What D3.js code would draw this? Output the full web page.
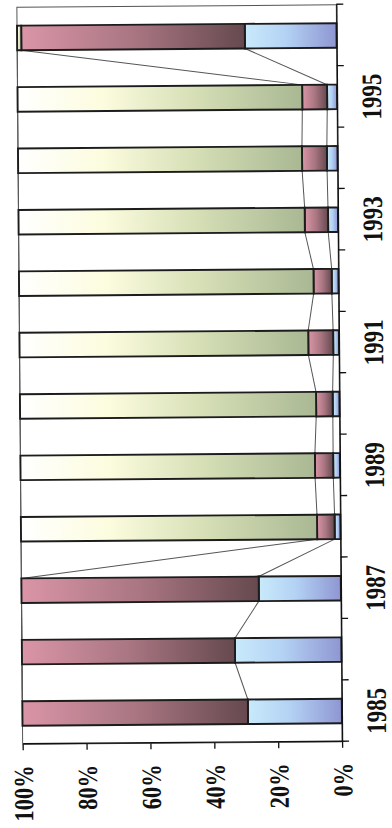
<!DOCTYPE html>
<html>
<head>
<meta charset="utf-8">
<script src="https://cdn.jsdelivr.net/npm/d3@7"></script>
<style>
  html, body { margin: 0; padding: 0; background: #ffffff; }
  svg { display: block; }
</style>
</head>
<body>
<svg id="chart" width="392" height="828"></svg>
<script>
// ---- data (percent shares, stacked bottom -> top) ----
const years = ["1985","1986","1987","1988","1989","1990","1991","1992","1993","1994","1995","1996"];
const blueVals  = [29.4, 33.3, 25.7, 1.8, 2.1, 2.1, 1.8, 2.1, 3.1, 3.3, 3.1, 28.7];
const redVals   = [70.6, 66.7, 74.3, 5.5, 5.7, 5.2, 7.8, 5.7, 7.3, 7.8, 7.8, 70.0];
const greenVals = [0.0, 0.0, 0.0, 92.7, 92.2, 92.7, 90.4, 92.2, 89.6, 88.9, 89.1, 1.3];
const yearLabels = ["1985","1987","1989","1991","1993","1995"];
const valueTicks = [0, 20, 40, 60, 80, 100];

const seriesKeys = ["blue", "red", "green"];
const table = years.map((yr, i) => ({ year: yr, blue: blueVals[i], red: redVals[i], green: greenVals[i] }));

// ---- layout in the un-rotated frame (828 wide x 392 tall) ----
const W = 828, H = 392;
const plotLeft = 85, plotRight = 822;
const yTop = 19.75, yBottom = 339.2;

const svg = d3.select("#chart");
const defs = svg.append("defs");

const grads = {
  blue:  [["0%", "#c8eafb"], ["45%", "#b4d2f4"], ["100%", "#8e96d2"]],
  red:   [["0%", "#da95a7"], ["50%", "#a97682"], ["100%", "#66494f"]],
  green: [["0%", "#ffffff"], ["30%", "#fcfcde"], ["62%", "#d6dfb6"], ["100%", "#a9b893"]]
};
Object.entries(grads).forEach(([k, stops]) => {
  const g = defs.append("linearGradient").attr("id", "g-" + k)
    .attr("x1", 0).attr("y1", 0).attr("x2", 0).attr("y2", 1);
  stops.forEach(([o, c]) => g.append("stop").attr("offset", o).attr("stop-color", c));
});

const outer = svg.append("g").attr("transform", "rotate(-0.45,180,374)");
const root = outer.append("g").attr("transform", `translate(0,${W}) rotate(-90)`);

const x = d3.scaleBand().domain(years).range([plotLeft, plotRight]).paddingInner(0.6).paddingOuter(0.3);
const y = d3.scaleLinear().domain([0, 100]).range([yBottom, yTop]);
const xb = d3.scaleLinear().domain([0, years.length]).range([plotLeft, plotRight]);

// plot border
root.append("rect")
  .attr("x", plotLeft).attr("y", yTop)
  .attr("width", plotRight - plotLeft).attr("height", yBottom - yTop)
  .attr("fill", "none").attr("stroke", "#555").attr("stroke-width", 1);

const stacked = d3.stack().keys(seriesKeys)(table);

// series lines
const lineG = root.append("g");
stacked.forEach(layer => {
  for (let i = 0; i < years.length - 1; i++) {
    lineG.append("line")
      .attr("x1", x(years[i]) + x.bandwidth()).attr("y1", y(layer[i][1]))
      .attr("x2", x(years[i + 1])).attr("y2", y(layer[i + 1][1]))
      .attr("stroke", "#555").attr("stroke-width", 1);
  }
});

// bars
stacked.forEach(layer => {
  root.append("g").selectAll("rect").data(layer.filter(d => d[1] - d[0] > 0)).join("rect")
    .attr("x", d => x(d.data.year))
    .attr("width", x.bandwidth())
    .attr("y", d => y(d[1]))
    .attr("height", d => y(d[0]) - y(d[1]))
    .attr("fill", `url(#g-${layer.key})`)
    .attr("stroke", "#1c1c1c").attr("stroke-width", 1.9);
});

// value axis (left in un-rotated frame)
const yAxis = root.append("g").attr("transform", `translate(${plotLeft},0)`)
  .call(d3.axisLeft(y).tickValues(valueTicks).tickSize(6).tickSizeOuter(0).tickFormat(d => d + "%"));
yAxis.selectAll("path,line").attr("stroke", "#111").attr("stroke-width", 1.3);
yAxis.selectAll("text")
  .attr("x", null).attr("dy", null).attr("y", null)
  .attr("transform", "translate(-21,9.5) scale(1,1.22)")
  .attr("text-anchor", "end")
  .attr("fill", "#111")
  .style("font-family", "'Liberation Serif', 'Times New Roman', serif")
  .style("font-weight", "bold").style("font-size", "22.5px");

// category axis (bottom in un-rotated frame): boundary ticks
const xAxis = root.append("g").attr("transform", `translate(0,${yBottom})`)
  .call(d3.axisBottom(xb).tickValues(d3.range(0, years.length + 1)).tickSize(7).tickSizeOuter(0).tickFormat(""));
xAxis.selectAll("path,line").attr("stroke", "#111").attr("stroke-width", 1.3);

// category labels
root.append("g").selectAll("text").data(yearLabels).join("text")
  .attr("transform", d => `translate(${x(d) + x.bandwidth() / 2},${yBottom + 44}) scale(1,1.22)`)
  .attr("text-anchor", "middle")
  .attr("fill", "#111")
  .style("font-family", "'Liberation Serif', 'Times New Roman', serif")
  .style("font-weight", "bold").style("font-size", "23px")
  .text(d => d);
</script>
</body>
</html>
